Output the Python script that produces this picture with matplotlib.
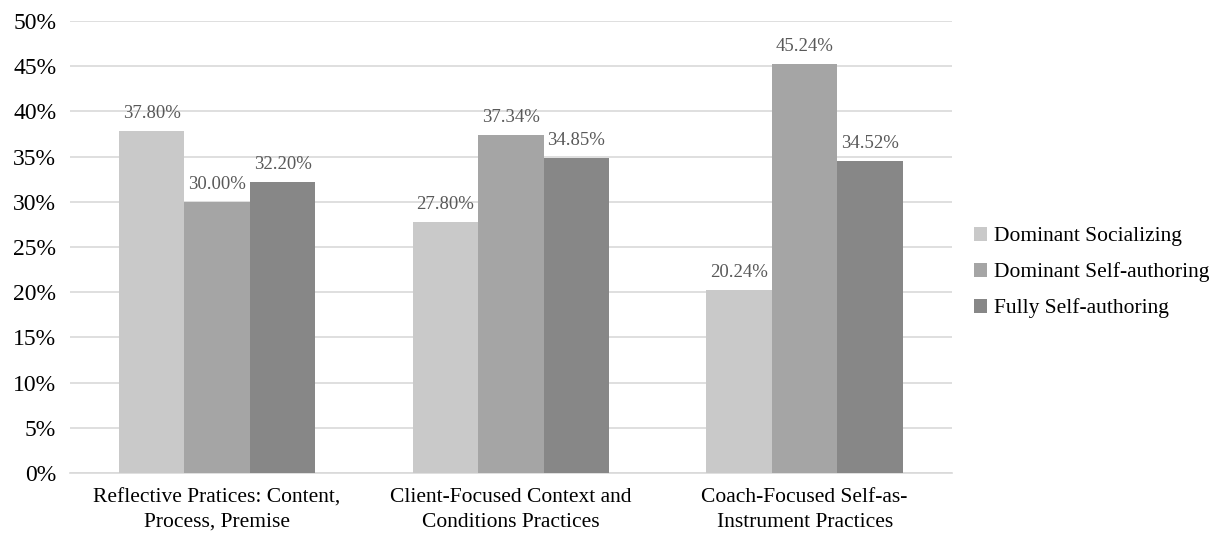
import numpy as np
import matplotlib.pyplot as plt

categories = ["Reflective Pratices: Content,\nProcess, Premise",
              "Client-Focused Context and\nConditions Practices",
              "Coach-Focused Self-as-\nInstrument Practices"]
series_names = ["Dominant Socializing", "Dominant Self-authoring", "Fully Self-authoring"]
socializing = [37.80, 27.80, 20.24]
self_authoring = [30.00, 37.34, 45.24]
fully_self = [32.20, 34.85, 34.52]
colors = ["#c9c9c9", "#a5a5a5", "#878787"]

plt.rcParams['font.family'] = ['Liberation Serif', 'DejaVu Serif']

fig = plt.figure(figsize=(12.31, 5.36), dpi=100)
ax = fig.add_axes([0.057, 0.1175, 0.716, 0.8435])

x = np.arange(len(categories))
w = 0.223
for i, (vals, name) in enumerate(zip([socializing, self_authoring, fully_self], series_names)):
    pos = x + (i - 1) * w
    ax.bar(pos, vals, w, color=colors[i], label=name, zorder=3)
    for px, v in zip(pos, vals):
        ax.text(px, v + 1.0, f"{v:.2f}%", ha="center", va="bottom",
                fontsize=13.5, color="#595959", zorder=4)

ax.set_xlim(-0.5, 2.5)
ax.set_ylim(0, 50)
ax.set_yticks(np.arange(0, 51, 5))
ax.set_yticklabels([f"{t}%" for t in range(0, 51, 5)], fontsize=17)
ax.set_xticks(x)
ax.set_xticklabels(categories, fontsize=15.5, linespacing=1.4)
ax.tick_params(axis="both", length=0)
ax.tick_params(axis="x", pad=11)
ax.tick_params(axis="y", pad=10)
ax.grid(axis="y", color="#d9d9d9", linewidth=1.2, zorder=0)
for s in ["top", "right", "left"]:
    ax.spines[s].set_visible(False)
ax.spines["bottom"].set_color("#d9d9d9")
ax.spines["bottom"].set_linewidth(1.2)

ax.legend(loc="center left", bbox_to_anchor=(1.004, 0.443), frameon=False,
          fontsize=15.5, handlelength=0.6, handleheight=0.6, handletextpad=0.3,
          labelspacing=0.75)

fig.savefig("out.png", dpi=100)
